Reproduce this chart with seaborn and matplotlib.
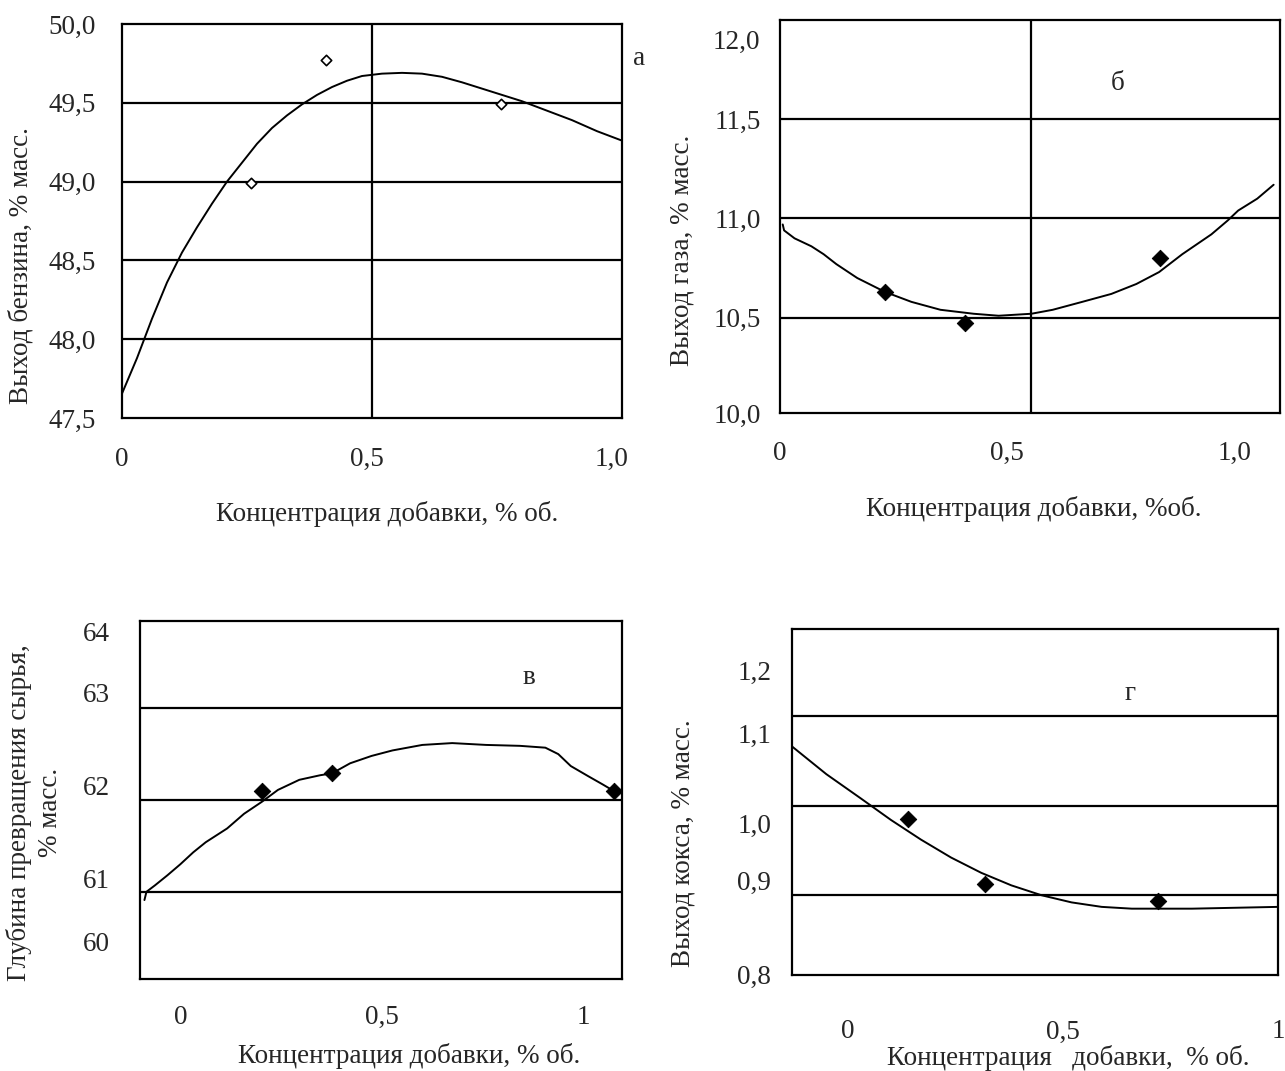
import numpy as np
import pandas as pd
import matplotlib
matplotlib.use("Agg")
import matplotlib.pyplot as plt
import seaborn as sns

sns.set_style("white")
plt.rcParams["font.family"] = ["Liberation Serif", "DejaVu Serif"]
plt.rcParams["axes.linewidth"] = 1.6

XLABEL = "Концентрация добавки, % об."
TICK_FS = 19.5
LAB_FS = 19.5

# а. выход бензина
a_curve_x = [-0.006, 0.03, 0.06, 0.09, 0.12, 0.15, 0.18, 0.21, 0.24, 0.27, 0.30, 0.33,
             0.36, 0.39, 0.42, 0.45, 0.48, 0.52, 0.56, 0.60, 0.64, 0.68, 0.72, 0.76,
             0.80, 0.85, 0.90, 0.95, 1.0]
a_curve_y = [47.61, 47.88, 48.13, 48.36, 48.55, 48.71, 48.86, 49.0, 49.12, 49.24, 49.34,
             49.42, 49.49, 49.55, 49.60, 49.64, 49.67, 49.685, 49.69, 49.685, 49.665,
             49.63, 49.59, 49.55, 49.51, 49.45, 49.39, 49.32, 49.26]
a_pts_x = [0.258, 0.408, 0.757]
a_pts_y = [48.99, 49.77, 49.49]
a_yticks = [47.5, 48.0, 48.5, 49.0, 49.5, 50.0]
a_ylabels = ["47,5", "48,0", "48,5", "49,0", "49,5", "50,0"]
a_xticks = [0, 0.49, 0.98]
a_xlabels = ["0", "0,5", "1,0"]

# б. выход газа
b_curve_x = [0.006, 0.009, 0.032, 0.069, 0.096, 0.124, 0.17, 0.231, 0.289, 0.353,
             0.426, 0.481, 0.553, 0.6, 0.665, 0.729, 0.784, 0.834, 0.885, 0.949,
             0.985, 1.008, 1.05, 1.086]
b_curve_y = [10.97, 10.94, 10.90, 10.86, 10.82, 10.77, 10.70, 10.63, 10.58, 10.54,
             10.52, 10.51, 10.52, 10.54, 10.58, 10.62, 10.67, 10.73, 10.82, 10.92,
             10.99, 11.04, 11.10, 11.17]
b_pts_x = [0.231, 0.408, 0.836]
b_pts_y = [10.63, 10.475, 10.80]
b_ytick_pos = [10.02, 10.5, 11.0, 11.5, 11.90]
b_ylabels = ["10,0", "10,5", "11,0", "11,5", "12,0"]
b_xticks = [0, 0.5, 1.0]
b_xlabels = ["0", "0,5", "1,0"]

# в. глубина превращения сырья
c_curve_x = [-0.089, -0.084, -0.063, -0.032, 0.0, 0.032, 0.063, 0.116, 0.158, 0.202,
             0.242, 0.295, 0.347, 0.376, 0.421, 0.474, 0.526, 0.6, 0.674, 0.758,
             0.842, 0.905, 0.937, 0.968, 1.011, 1.047, 1.074]
c_curve_y = [60.91, 61.0, 61.07, 61.18, 61.30, 61.43, 61.54, 61.69, 61.85, 61.98,
             62.11, 62.22, 62.27, 62.29, 62.40, 62.48, 62.54, 62.60, 62.62, 62.60,
             62.59, 62.57, 62.50, 62.37, 62.26, 62.17, 62.10]
c_pts_x = [0.202, 0.376, 1.074]
c_pts_y = [62.10, 62.29, 62.10]
c_ytick_pos = [60.46, 61.14, 62.16, 63.17, 63.84]
c_ylabels = ["60", "61", "62", "63", "64"]
c_xticks = [0, 0.5, 1.0]
c_xlabels = ["0", "0,5", "1"]

# г. выход кокса
d_curve_x = [-0.13, -0.05, 0.03, 0.10, 0.17, 0.24, 0.31, 0.38, 0.45, 0.52, 0.59,
             0.66, 0.73, 0.80, 0.90, 1.0]
d_curve_y = [1.066, 1.035, 1.008, 0.984, 0.962, 0.942, 0.925, 0.911, 0.900, 0.892,
             0.887, 0.885, 0.885, 0.885, 0.886, 0.887]
d_pts_x = [0.14, 0.319, 0.722]
d_pts_y = [0.985, 0.913, 0.893]
d_ytick_pos = [0.812, 0.916, 0.980, 1.081, 1.151]
d_ylabels = ["0,8", "0,9", "1,0", "1,1", "1,2"]
d_xticks = [0, 0.5, 1.0]
d_xlabels = ["0", "0,5", "1"]

W, H = 1285, 1071
fig = plt.figure(figsize=(W / 100, H / 100), dpi=100)


def box(l, r, t, b):
    return fig.add_axes([l / W, 1 - b / H, (r - l) / W, (b - t) / H])


def panel(ax, cx, cy, px, py, filled):
    sns.lineplot(x=cx, y=cy, ax=ax, color="black", lw=1.4, sort=False)
    if filled:
        sns.scatterplot(x=px, y=py, ax=ax, marker="D", s=70, color="black",
                        edgecolor="black", zorder=5)
    else:
        sns.scatterplot(x=px, y=py, ax=ax, marker="D", s=28, color="white",
                        edgecolor="black", linewidth=1.2, zorder=5)
    ax.tick_params(length=0, labelsize=TICK_FS)
    for s in ax.spines.values():
        s.set_color("black")


# а
ax1 = box(122, 622, 24, 418)
panel(ax1, a_curve_x, a_curve_y, a_pts_x, a_pts_y, False)
for g in [48.0, 48.5, 49.0, 49.5]:
    ax1.axhline(g, color="black", lw=1.6)
ax1.axvline(0.5, color="black", lw=1.6)
ax1.set_xlim(0, 1.0)
ax1.set_ylim(47.5, 50.0)
ax1.set_yticks(a_yticks, a_ylabels)
ax1.set_xticks(a_xticks, a_xlabels)
ax1.tick_params(axis="x", pad=21)
ax1.tick_params(axis="y", length=6, width=1.6, direction="out", pad=13)
ax1.set_ylabel("Выход бензина, % масс.", fontsize=LAB_FS)
ax1.yaxis.set_label_coords(-0.176, 0.388)
ax1.set_xlabel(XLABEL, fontsize=LAB_FS)
ax1.xaxis.set_label_coords(0.53, -0.211)
ax1.text(1.035, 49.78, "а", fontsize=LAB_FS, ha="center", va="center", clip_on=False)

# б
ax2 = box(780, 1280, 20, 413)
panel(ax2, b_curve_x, b_curve_y, b_pts_x, b_pts_y, True)
for g in [10.5, 11.0, 11.5]:
    ax2.axhline(g, color="black", lw=1.6)
ax2.axvline(0.553, color="black", lw=1.6)
ax2.set_xlim(0, 1.1)
ax2.set_ylim(10.02, 12.0)
ax2.set_yticks(b_ytick_pos, b_ylabels)
ax2.set_xticks(b_xticks, b_xlabels)
ax2.tick_params(axis="x", pad=20)
ax2.tick_params(axis="y", pad=14)
ax2.set_ylabel("Выход газа, % масс.", fontsize=LAB_FS)
ax2.yaxis.set_label_coords(-0.17, 0.415)
ax2.set_xlabel("Концентрация добавки, %об.", fontsize=LAB_FS)
ax2.xaxis.set_label_coords(0.508, -0.21)
ax2.text(0.743, 11.68, "б", fontsize=LAB_FS, ha="center", va="center")

# в
ax3 = box(140, 622, 621, 979)
panel(ax3, c_curve_x, c_curve_y, c_pts_x, c_pts_y, True)
for g in [61, 62, 63]:
    ax3.axhline(g, color="black", lw=1.6)
ax3.set_xlim(-0.1, 1.095)
ax3.set_ylim(60.05, 63.95)
ax3.set_yticks(c_ytick_pos, c_ylabels)
ax3.set_xticks(c_xticks, c_xlabels)
ax3.tick_params(axis="x", pad=19)
ax3.tick_params(axis="y", pad=21.5)
ax3.set_ylabel("Глубина превращения сырья,\n% масс.", fontsize=LAB_FS, linespacing=1.3)
ax3.yaxis.set_label_coords(-0.16, 0.466)
ax3.set_xlabel(XLABEL, fontsize=LAB_FS)
ax3.xaxis.set_label_coords(0.558, -0.179)
ax3.text(0.863, 63.33, "в", fontsize=LAB_FS, ha="center", va="center")

# г
ax4 = box(792, 1278, 629, 975)
panel(ax4, d_curve_x, d_curve_y, d_pts_x, d_pts_y, True)
for g in [0.9, 1.0, 1.1]:
    ax4.axhline(g, color="black", lw=1.6)
ax4.set_xlim(-0.13, 1.0)
ax4.set_ylim(0.811, 1.197)
ax4.set_yticks(d_ytick_pos, d_ylabels)
ax4.set_xticks(d_xticks, d_xlabels)
ax4.tick_params(axis="x", pad=32)
ax4.tick_params(axis="y", pad=15)
ax4.set_ylabel("Выход кокса, % масс.", fontsize=LAB_FS)
ax4.yaxis.set_label_coords(-0.199, 0.382)
ax4.set_xlabel("Концентрация   добавки,  % об.", fontsize=LAB_FS)
ax4.xaxis.set_label_coords(0.568, -0.202)
ax4.text(0.657, 1.125, "г", fontsize=LAB_FS, ha="center", va="center")

fig.savefig("out.png", dpi=100, facecolor="white")
